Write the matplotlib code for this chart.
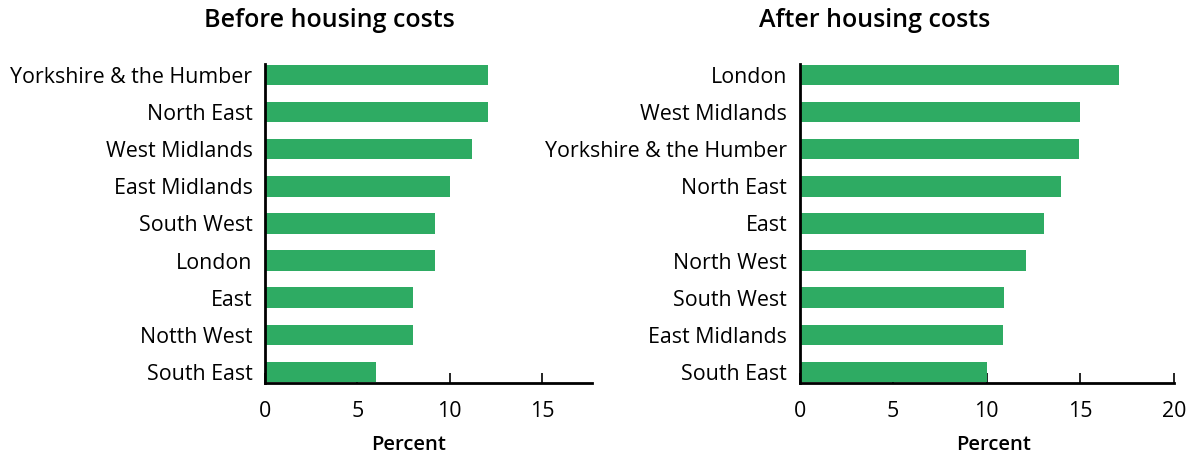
import matplotlib

matplotlib.use("Agg")
import matplotlib.pyplot as plt

GREEN = "#2eab63"

bhc_regions = [
    "Yorkshire & the Humber", "North East", "West Midlands", "East Midlands",
    "South West", "London", "East", "Notth West", "South East",
]
bhc_values = [12.1, 12.1, 11.2, 10.05, 9.2, 9.2, 8.0, 8.0, 6.0]

ahc_regions = [
    "London", "West Midlands", "Yorkshire & the Humber", "North East",
    "East", "North West", "South West", "East Midlands", "South East",
]
ahc_values = [17.05, 15.0, 14.95, 14.0, 13.05, 12.1, 10.95, 10.9, 10.0]

plt.rcParams["font.family"] = ["Open Sans", "DejaVu Sans"]

fig = plt.figure(figsize=(11.88, 4.57), dpi=100)
ax_l = fig.add_axes([0.223, 0.162, 0.275, 0.698])
ax_r = fig.add_axes([0.673, 0.162, 0.315, 0.698])


def draw_panel(ax, regions, values, xmax, ticks):
    pos = list(range(len(regions)))[::-1]
    ax.barh(pos, values, height=0.55, color=GREEN)
    ax.set_axisbelow(True)
    ax.set_yticks(pos)
    ax.set_yticklabels(regions, fontsize=15.4)
    ax.set_ylim(-0.3, 8.3)
    ax.set_xlim(0, xmax)
    ax.set_xticks(ticks)
    ax.set_xticklabels([str(t) for t in ticks], fontsize=15.4)
    ax.tick_params(axis="y", length=0, pad=9)
    ax.tick_params(axis="x", direction="in", length=7, width=1.2, pad=13)
    for side in ["top", "right"]:
        ax.spines[side].set_visible(False)
    for side in ["left", "bottom"]:
        ax.spines[side].set_linewidth(2)


draw_panel(ax_l, bhc_regions, bhc_values, 17.7, [0, 5, 10, 15])
draw_panel(ax_r, ahc_regions, ahc_values, 20, [0, 5, 10, 15, 20])

fig.text(0.277, 0.955, "Before housing costs", ha="center", va="center",
         fontsize=18, fontweight="semibold")
fig.text(0.736, 0.955, "After housing costs", ha="center", va="center",
         fontsize=18, fontweight="semibold")
fig.text(0.344, 0.027, "Percent", ha="center", va="center",
         fontsize=14.6, fontweight="semibold")
fig.text(0.836, 0.027, "Percent", ha="center", va="center",
         fontsize=14.6, fontweight="semibold")

fig.savefig("out.png", dpi=100)
plt.close(fig)
